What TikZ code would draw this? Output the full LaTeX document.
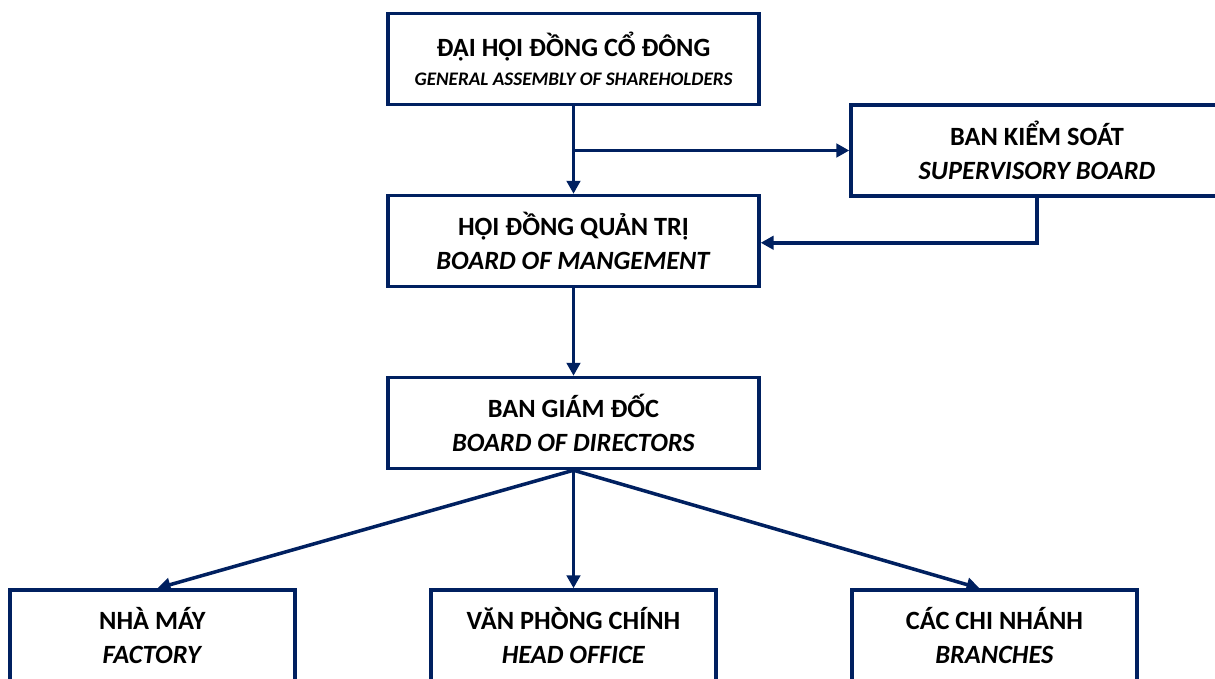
\documentclass[tikz,border=0pt]{standalone}
\usepackage{fontspec}
\setmainfont{Carlito}
\usetikzlibrary{arrows.meta}
\definecolor{navy}{RGB}{0,32,96}
\tikzset{>/.tip={Triangle[length=2.6mm,width=2.7mm]}}

\begin{document}
\begin{tikzpicture}[x=0.02cm,y=-0.02cm,line width=2pt,
  box/.style={draw=navy,fill=white,line width=2pt,minimum width=7.42cm,minimum height=1.82cm,
    inner sep=0pt,align=center,font=\fontsize{15}{19}\selectfont},
  small/.style={box,minimum width=5.7cm}]
\useasboundingbox (0,0) rectangle (1215,679);

\node[box] (DHCD) at (573.5,59) {\textbf{ĐẠI HỘI ĐỒNG CỔ ĐÔNG}\\[-2.5pt]{\fontsize{10.9}{13}\selectfont\bfseries\itshape GENERAL ASSEMBLY OF SHAREHOLDERS}};
\node[box,minimum width=7.44cm] (BKS) at (1037,150.5) {\textbf{BAN KIỂM SOÁT}\\\textbf{\textit{SUPERVISORY BOARD}}};
\node[box] (HDQT) at (573.5,241) {\textbf{HỘI ĐỒNG QUẢN TRỊ}\\\textbf{\textit{BOARD OF MANGEMENT}}};
\node[box] (BGD) at (573.5,423) {\textbf{BAN GIÁM ĐỐC}\\\textbf{\textit{BOARD OF DIRECTORS}}};

\node[small] (NM) at (152.5,635.5) {\textbf{NHÀ MÁY}\\\textbf{\textit{FACTORY}}};
\node[small] (VP) at (573.5,635.5) {\textbf{VĂN PHÒNG CHÍNH}\\\textbf{\textit{HEAD OFFICE}}};
\node[small] (CN) at (994.5,635.5) {\textbf{CÁC CHI NHÁNH}\\\textbf{\textit{BRANCHES}}};

\coordinate (split) at (DHCD.south |- BKS.west);

\draw[->,navy] (DHCD) -- (HDQT);
\draw[->,navy] (split) -- (BKS.west);
\draw[->,navy] (BKS.south) |- ([yshift=-1pt]HDQT.east);
\draw[->,navy] (HDQT) -- (BGD);
\draw[->,navy] (BGD.south) -- ([xshift=0.1cm]NM.north);
\draw[->,navy] (BGD.south) -- (VP.north);
\draw[->,navy] (BGD.south) -- ([xshift=-0.3cm]CN.north);
\end{tikzpicture}
\end{document}
